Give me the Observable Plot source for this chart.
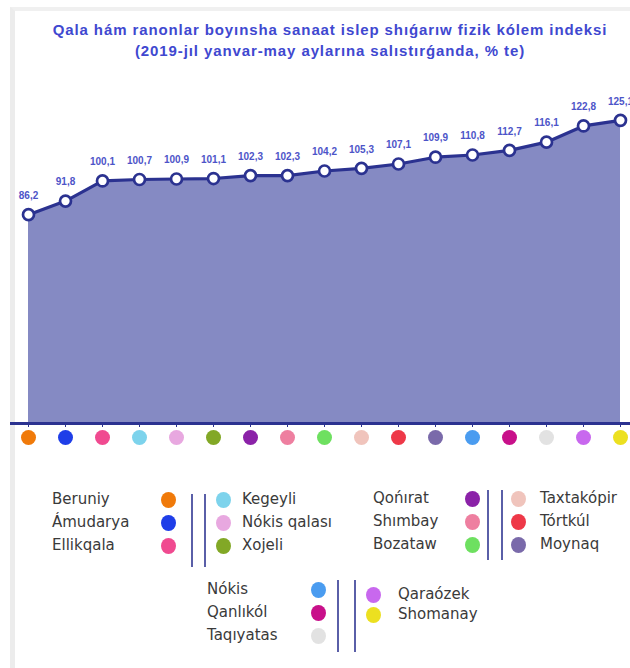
<!DOCTYPE html>
<html><head><meta charset="utf-8">
<script src="https://cdn.jsdelivr.net/npm/d3@7"></script>
<script src="https://cdn.jsdelivr.net/npm/@observablehq/plot@0.6"></script>
<style>
body{margin:0;background:#fff;font-family:"Liberation Sans",Arial,sans-serif;}
#wrap{position:relative;width:630px;height:668px;overflow:hidden;background:#fff;}
#frame{position:absolute;left:10px;top:7px;width:640px;height:700px;border-left:5px solid #ececec;border-top:4px solid #f0f0f0;}
#title{position:absolute;left:30px;top:19px;width:600px;text-align:center;color:#4048d0;font-weight:bold;font-size:15px;letter-spacing:0.9px;line-height:21px;}
#chart{position:absolute;left:0;top:70px;}
.lg{position:absolute;font-family:"DejaVu Sans",sans-serif;font-size:15px;color:#3a3a3a;line-height:16px;white-space:nowrap;}
.ld{position:absolute;width:15px;height:16px;border-radius:50%;}
.lv{position:absolute;width:2px;background:#5a5fa8;}
</style></head>
<body><div id="wrap"><div id="frame"></div>
<div id="title">Qala hám ranonlar boyınsha sanaat islep shıǵarıw fizik kólem indeksi<br>(2019-jıl yanvar-may aylarına salıstırǵanda, % te)</div>
<div id="chart"></div></div>
<script>
const districts = ["Beruniy","Ámudarya","Ellikqala","Kegeyli","Nókis qalası","Xojeli","Qońırat","Shımbay","Bozataw","Taxtakópir","Tórtkúl","Moynaq","Nókis","Qanlıkól","Taqıyatas","Qaraózek","Shomanay"];
const values = [86.2,91.8,100.1,100.7,100.9,101.1,102.3,102.3,104.2,105.3,107.1,109.9,110.8,112.7,116.1,122.8,125.1];
const colors = ["#f07a0a","#1f3ee8","#f04a90","#7dd3ec","#e8a8e0","#82a826","#8b22a8","#ee7fa0","#6ee060","#f0c4bc","#ee3848","#7a6aaa","#4a9cf0","#c8108a","#e2e2e2","#c868ee","#ece020"];

const data = districts.map((d,i)=>({name:d, value:values[i], color:colors[i]}));
const navy = "#2b3290";

const plot = Plot.plot({
  width: 630, height: 390,
  marginLeft: 24, marginRight: 7, marginTop: 38, marginBottom: 37,
  x: {type: "point", domain: districts, padding: 0},
  y: {domain: [0, 130], axis: null},
  color: {type: "identity"},
  style: {fontFamily: "Liberation Sans, Arial, sans-serif", overflow: "visible"},
  marks: [
    Plot.areaY(data, {x: "name", y: "value", fill: "#858ac3", curve: "linear"}),
    Plot.lineY(data, {x: "name", y: "value", stroke: navy, strokeWidth: 3.2}),
    Plot.ruleY([0], {stroke: navy, strokeWidth: 3, insetLeft: -14, insetRight: -7}),
    Plot.axisX({tickFormat: () => "", tickSize: 4, stroke: navy, label: null}),
    Plot.dot(data, {x: "name", y: "value", r: 5.5, fill: "white", stroke: navy, strokeWidth: 2.7}),
    Plot.text(data, {x: "name", y: "value", text: d => d.value.toFixed(1).replace(".", ","), dy: -19, fill: "#4d54c8", fontSize: 10, fontWeight: "bold"}),
    Plot.dot(data, {x: "name", frameAnchor: "bottom", dy: 14, r: 7.5, fill: "color"})
  ]
});
document.getElementById("chart").appendChild(plot);

// legend
const legendGroups = [
  {left: ["Beruniy","Ámudarya","Ellikqala"], right: ["Kegeyli","Nókis qalası","Xojeli"]},
  {left: ["Qońırat","Shımbay","Bozataw"], right: ["Taxtakópir","Tórtkúl","Moynaq"]},
  {left: ["Nókis","Qanlıkól","Taqıyatas"], right: ["Qaraózek","Shomanay"]}
];
const layout = [
  {lx: 52, dlx: 168, v1: 192, v2: 205, drx: 223, rx: 242, y0: 500, ry0: 500, vTop: 494, vBot: 567},
  {lx: 373, dlx: 472, v1: 488, v2: 502, drx: 518, rx: 540, y0: 499, ry0: 499, vTop: 490, vBot: 560},
  {lx: 207, dlx: 318, v1: 338, v2: 355, drx: 373, rx: 398, y0: 590, ry0: 595, vTop: 580, vBot: 652}
];
const wrap = document.getElementById("wrap");
const colorOf = Object.fromEntries(districts.map((d,i)=>[d, colors[i]]));
function add(cls, style, text){ const e=document.createElement("div"); e.className=cls; Object.assign(e.style, style); if(text) e.textContent=text; wrap.appendChild(e); }
legendGroups.forEach((g, gi) => {
  const L = layout[gi];
  const step = 23;
  g.left.forEach((n, i) => {
    const y = L.y0 + i*step;
    add("lg", {left: L.lx+"px", top: (y-9)+"px"}, n);
    add("ld", {left: (L.dlx-7.5)+"px", top: (y-8)+"px", background: colorOf[n]});
  });
  g.right.forEach((n, i) => {
    const y = L.ry0 + i*(gi===2?20:step);
    add("lg", {left: L.rx+"px", top: (y-9)+"px"}, n);
    add("ld", {left: (L.drx-7.5)+"px", top: (y-8)+"px", background: colorOf[n]});
  });
  [L.v1, L.v2].forEach(x => add("lv", {left: (x-1)+"px", top: L.vTop+"px", height: (L.vBot-L.vTop)+"px"}));
});
</script>
</body></html>
